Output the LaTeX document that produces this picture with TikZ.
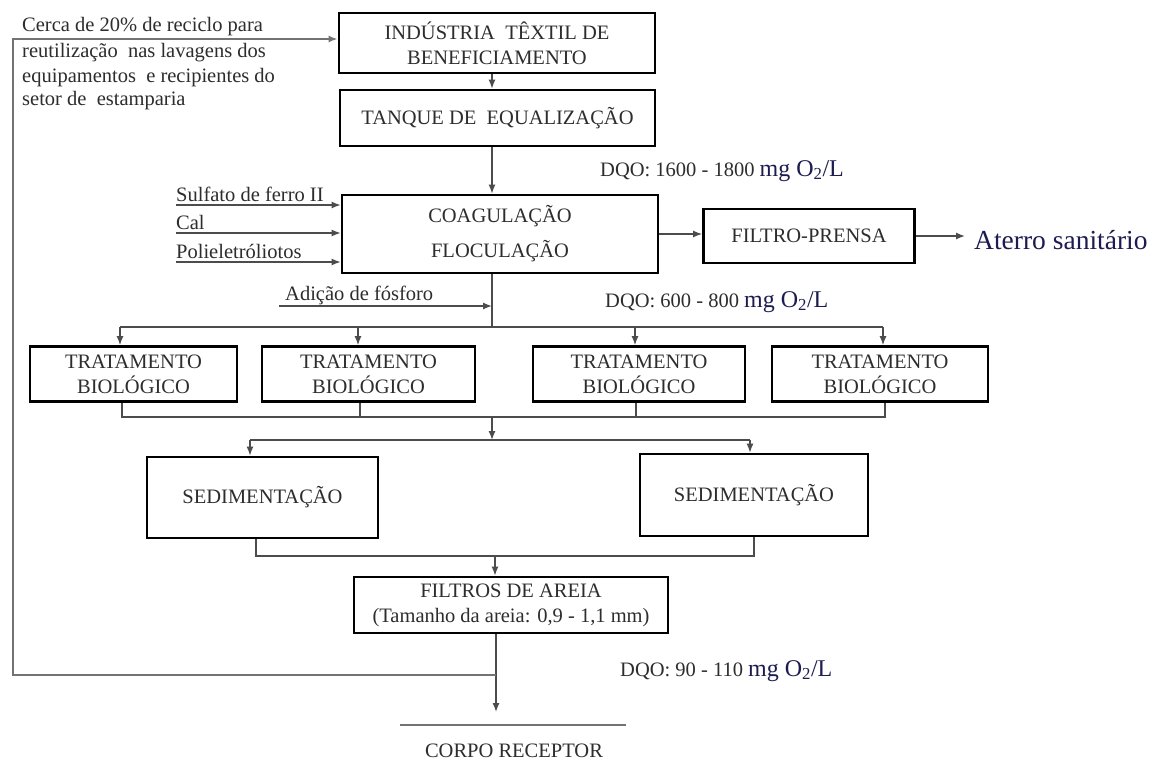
\documentclass[tikz,border=0pt]{standalone}
\usepackage{fontspec}
\setmainfont{Liberation Serif}
\usetikzlibrary{arrows.meta}
\definecolor{navy}{RGB}{28,28,80}
\definecolor{ink}{RGB}{45,45,45}
\newcommand{\mgOL}{{\fontsize{24}{24}\selectfont\color{navy}mg O\textsubscript{2}/L}}
\begin{document}
\begin{tikzpicture}[x=1pt,y=-1pt,
  box/.style={draw=black, line width=2.8pt, inner sep=0pt, align=center, font=\fontsize{20.5}{25}\selectfont, text=ink},
  conn/.style={draw=black!70, line width=1.3pt},
  arr/.style={conn, -{Latex[length=9pt,width=7pt]}},
  lbl/.style={inner sep=0pt, font=\fontsize{20.5}{25}\selectfont, text=ink},
]
\useasboundingbox[fill=white] (0,0) rectangle (1160,769);

% boxes
\node[box, minimum width=316pt, minimum height=60pt] (ind) at (497,43) {INDÚSTRIA\ \ TÊXTIL DE\\BENEFICIAMENTO};
\node[box, minimum width=315pt, minimum height=56pt] (tanque) at (497.5,118) {TANQUE DE\ \ EQUALIZAÇÃO};
\node[box, minimum width=316pt, minimum height=78pt, font=\fontsize{20.5}{35}\selectfont] (coag) at (500,234) {COAGULAÇÃO\\FLOCULAÇÃO};
\node[box, minimum width=211pt, minimum height=54pt] (filtro) at (809,236) {FILTRO-PRENSA};
\node[lbl, anchor=base west, text=navy, font=\fontsize{27.5}{30}\selectfont] (aterro) at (974,249) {Aterro sanitário};

\node[box, minimum width=207pt, minimum height=55pt] (t1) at (133.5,374) {TRATAMENTO\\BIOLÓGICO};
\node[box, minimum width=213pt, minimum height=55pt] (t2) at (368.5,374) {TRATAMENTO\\BIOLÓGICO};
\node[box, minimum width=212pt, minimum height=55pt] (t3) at (639,374) {TRATAMENTO\\BIOLÓGICO};
\node[box, minimum width=216pt, minimum height=55pt] (t4) at (880,374) {TRATAMENTO\\BIOLÓGICO};

\node[box, minimum width=231pt, minimum height=81pt] (s1) at (262.5,497.5) {SEDIMENTAÇÃO};
\node[box, minimum width=228pt, minimum height=82pt] (s2) at (754,495) {SEDIMENTAÇÃO};

\node[box, minimum width=314pt, minimum height=56pt] (filtros) at (511,605) {FILTROS DE AREIA\\(Tamanho da areia: 0,9 - 1,1 mm)};

\node[lbl, anchor=base] (corpo) at (514,757) {CORPO RECEPTOR};

% recycle text
\node[lbl, anchor=base west] (r1) at (22,31) {Cerca de 20\% de reciclo para};
\node[lbl, anchor=base west] (r2) at (22,57) {reutilização\ \ nas lavagens dos};
\node[lbl, anchor=base west] (r3) at (22,82) {equipamentos\ \ e recipientes do};
\node[lbl, anchor=base west] (r4) at (22,105) {setor de\ \ estamparia};

% inputs
\node[lbl, anchor=base west] (sulf) at (176,201) {Sulfato de ferro II};
\node[lbl, anchor=base west] (cal) at (176,229) {Cal};
\node[lbl, anchor=base west] (poli) at (176,258) {Polieletróliotos};
\node[lbl, anchor=base west] (adic) at (285,300) {Adição de fósforo};

% DQO labels
\node[lbl, anchor=base west] (dqo1) at (600,176) {DQO: 1600 - 1800 \mgOL};
\node[lbl, anchor=base west] (dqo2) at (605,307) {DQO: 600 - 800 \mgOL};
\node[lbl, anchor=base west] (dqo3) at (620,676) {DQO: 90 - 110 \mgOL};

% coordinates
\coordinate (mx) at (492,0);
\coordinate (i1) at (176,205);
\coordinate (i2) at (176,233);
\coordinate (i3) at (176,262);
\coordinate (ia) at (279,306);
\coordinate (dist) at (492,327);
\coordinate (d1) at (120,327);
\coordinate (d2) at (358,327);
\coordinate (d3) at (635,327);
\coordinate (d4) at (883,327);
\coordinate (c1) at (122,417);
\coordinate (c2) at (360,417);
\coordinate (c3) at (636,417);
\coordinate (c4) at (885,417);
\coordinate (cm) at (492,417);
\coordinate (sd) at (492,440);
\coordinate (sdl) at (250,440);
\coordinate (sdr) at (750,440);
\coordinate (el) at (256,556);
\coordinate (er) at (754,556);
\coordinate (em) at (495,556);
\coordinate (ox) at (496,0);
\coordinate (rj) at (496,675);
\coordinate (tip) at (496,712);
\coordinate (rl) at (13,675);
\coordinate (rt) at (13,39);
\coordinate (cl) at (400,725);
\coordinate (cr) at (626,725);

% connectors
\draw[arr] (ind.south -| mx) -- (tanque.north -| mx);
\draw[arr] (tanque.south -| mx) -- (coag.north -| mx);
\draw[arr] (i1) -- (i1 -| coag.west);
\draw[arr] (i2) -- (i2 -| coag.west);
\draw[arr] (i3) -- (i3 -| coag.west);
\draw[arr] (coag.east) -- (coag.east -| filtro.west);
\draw[arr, shorten >=9pt] (filtro.east) -- (filtro.east -| aterro.west);
\draw[conn] (coag.south -| mx) -- (dist);
\draw[arr] (ia) -- (ia -| mx);
\draw[conn] (d1) -- (d4);
\draw[arr] (d1) -- (d1 |- t1.north);
\draw[arr] (d2) -- (d2 |- t2.north);
\draw[arr] (d3) -- (d3 |- t3.north);
\draw[arr] (d4) -- (d4 |- t4.north);
\draw[conn] (t1.south -| c1) -- (c1) -- (c4) -- (t4.south -| c4);
\draw[conn] (t2.south -| c2) -- (c2);
\draw[conn] (t3.south -| c3) -- (c3);
\draw[arr] (cm) -- (sd);
\draw[conn] (sdl) -- (sdr);
\draw[arr] (sdl) -- (sdl |- s1.north);
\draw[arr] (sdr) -- (sdr |- s2.north);
\draw[conn] (s1.south -| el) -- (el) -- (er) -- (s2.south -| er);
\draw[arr] (em) -- (em |- filtros.north);
\draw[arr] (filtros.south -| ox) -- (tip);
\draw[arr, draw=black!55, line width=1.8pt] (rj) -- (rl) -- (rt) -- (rt -| ind.west);
\draw[conn, draw=black!55, line width=1.8pt] (cl) -- (cr);
\end{tikzpicture}
\end{document}
